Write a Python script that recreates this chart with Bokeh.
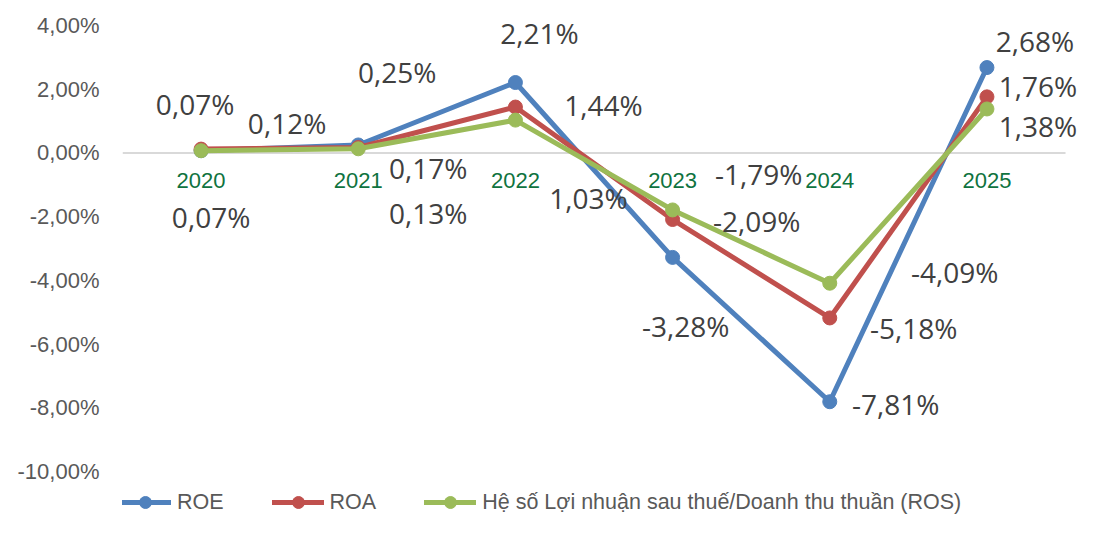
from bokeh.plotting import figure
from bokeh.models import (ColumnDataSource, Range1d, Legend, LegendItem,
                          FixedTicker, CustomJSTickFormatter)
from bokeh.core.properties import value
from bokeh.embed import file_html
from bokeh.resources import INLINE

# ---------------- data ----------------
years = ["2020", "2021", "2022", "2023", "2024", "2025"]
roe = [0.07, 0.25, 2.21, -3.28, -7.81, 2.68]
roa = [0.12, 0.17, 1.44, -2.09, -5.18, 1.76]
ros = [0.07, 0.13, 1.03, -1.79, -4.09, 1.38]
series_names = ["ROE", "ROA", "Hệ số Lợi nhuận sau thuế/Doanh thu thuần (ROS)"]
y_ticks = [-10, -8, -6, -4, -2, 0, 2, 4]

# label placement (screen px offsets from each point)
roe_dx = [-6, 39, 24, 13, 66, 48]
roe_dy = [-47, -73, -50, 69, 2, -27]
roa_dx = [86, 70, 88, 84, 84, 51]
roa_dy = [-26, 20, -2, 1, 10, -11]
ros_dx = [10, 70, 73, 86, 125, 51]
ros_dy = [66, 64, 78, -36, -11, 17]

colors = ["#4F81BD", "#C0504D", "#9BBB59"]

xi = list(range(len(years)))

W, H = 1077, 517
p = figure(width=W, height=H, output_backend="svg", toolbar_location=None,
           x_range=Range1d(-0.5, 5.5762), y_range=Range1d(-11.444, 4.7848),
           x_axis_location=None, min_border_left=122, min_border_right=0,
           min_border_top=0, min_border_bottom=0)
p.outline_line_color = None
p.background_fill_color = "white"
p.border_fill_color = "white"
p.xgrid.visible = False
p.ygrid.visible = False

yax = p.yaxis[0]
yax.ticker = FixedTicker(ticks=y_ticks)
yax.formatter = CustomJSTickFormatter(code="return tick.toFixed(2).replace('.', ',') + '%';")
yax.axis_line_color = None
yax.major_tick_line_color = None
yax.minor_tick_line_color = None
yax.major_tick_out = 0
yax.major_tick_in = 0
yax.minor_tick_out = 0
yax.minor_tick_in = 0
yax.major_label_standoff = 23
yax.major_label_text_font = "Liberation Sans"
yax.major_label_text_font_size = "22px"
yax.major_label_text_color = "#595959"

# zero line across the category span
p.segment(x0=[-0.5], y0=[0], x1=[len(years) - 0.5], y1=[0],
          line_color="#D9D9D9", line_width=2)

items = []
for name, vals, dx, dy, col in zip(series_names, [roe, roa, ros],
                                    [roe_dx, roa_dx, ros_dx], [roe_dy, roa_dy, ros_dy], colors):
    src = ColumnDataSource(dict(x=xi, y=vals,
                                lbl=[f"{v:.2f}".replace(".", ",") + "%" for v in vals],
                                dx=dx, dy=dy))
    l = p.line("x", "y", source=src, line_color=col, line_width=5,
               line_join="round", line_cap="round")
    s = p.scatter("x", "y", source=src, size=14, fill_color=col, line_color=col)
    items.append((name, [l, s], src))

for name, rs, src in items:
    p.text("x", "y", text="lbl", source=src, x_offset="dx", y_offset="dy",
           text_align="center", text_baseline="middle",
           text_font=value("Open Sans"), text_font_size="28px", text_color="#404040")

# category labels
cat_src = ColumnDataSource(dict(x=xi, y=[0] * len(years), t=years))
p.text("x", "y", text="t", source=cat_src, y_offset=28, text_align="center",
       text_baseline="middle", text_font=value("Liberation Sans"),
       text_font_size="22px", text_color="#0F7340")

legend = Legend(items=[LegendItem(label=n, renderers=rs) for n, rs, _ in items],
                orientation="horizontal", location=(-3, 0),
                padding=0, margin=0, spacing=48, glyph_width=52, glyph_height=30,
                label_standoff=6, label_text_font="Liberation Sans",
                label_text_font_size="21.5px", label_text_color="#595959",
                border_line_color=None, background_fill_alpha=0)
p.add_layout(legend)

open("out.html", "w").write(file_html(p, INLINE))
